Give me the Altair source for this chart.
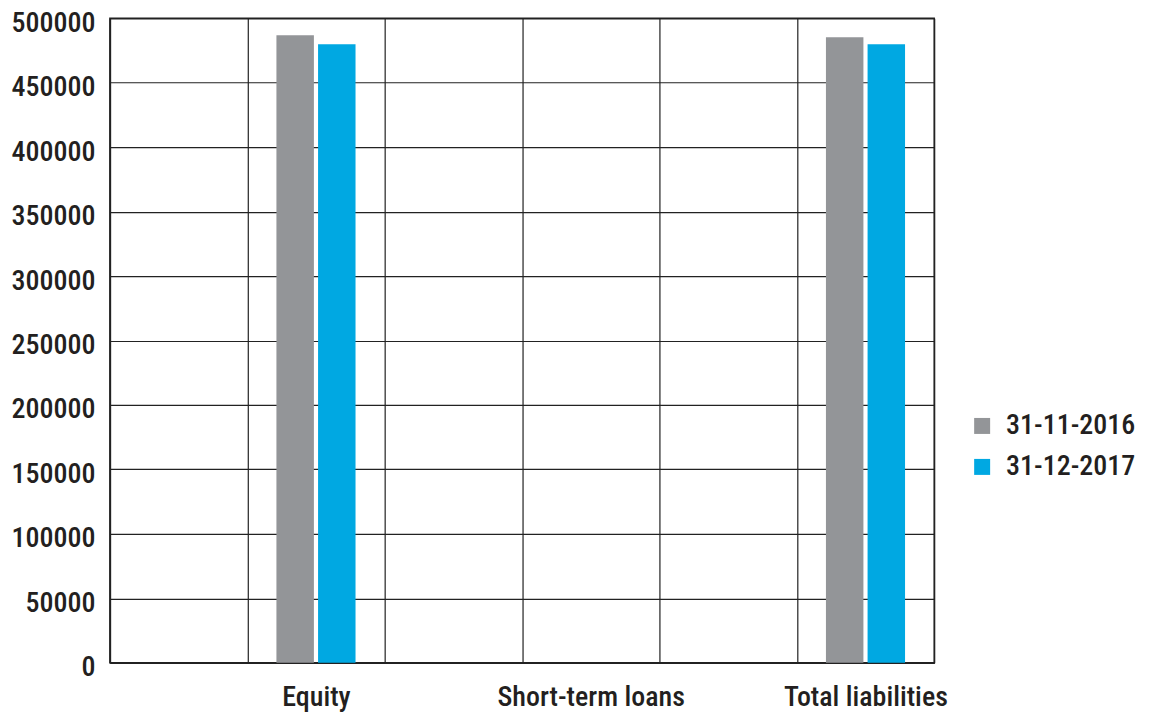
import altair as alt
import pandas as pd

categories = [" ", "Equity", "  ", "Short-term loans", "   ", "Total liabilities"]
series_names = ["31-11-2016", "31-12-2017"]
data_categories = ["Equity", "Short-term loans", "Total liabilities"]
values_2016 = [486800, 0, 485300]
values_2017 = [479800, 0, 479800]
y_ticks = [0, 50000, 100000, 150000, 200000, 250000, 300000, 350000, 400000, 450000, 500000]
colors = ["#939598", "#00A8E2"]

rows = []
for c, v1, v2 in zip(data_categories, values_2016, values_2017):
    rows.append({"category": c, "series": series_names[0], "amount": v1})
    rows.append({"category": c, "series": series_names[1], "amount": v2})
df = pd.DataFrame(rows)

FONT = "Roboto Condensed, Liberation Sans Narrow, DejaVu Sans Condensed, sans-serif"
TXT = "#231F20"
FW = 500

chart = alt.Chart(df).mark_bar().encode(
    x=alt.X("category:N", sort=categories,
            scale=alt.Scale(domain=categories, paddingInner=0, paddingOuter=0),
            axis=alt.Axis(title=None, labelAngle=0, tickBand="extent", ticks=False,
                          labelPadding=21, labelFontSize=28, labelFont=FONT, labelColor=TXT,
                          labelFontWeight=FW, labelLimit=0,
                          grid=True, gridColor="#222222", gridWidth=1.2,
                          domainColor="#222222", domainWidth=1.5)),
    xOffset=alt.XOffset("series:N", sort=series_names,
                        scale=alt.Scale(paddingInner=0.1, paddingOuter=0.7)),
    y=alt.Y("amount:Q", scale=alt.Scale(domain=[0, 500000], nice=False),
            axis=alt.Axis(title=None, values=y_ticks, format="d", ticks=False,
                          labelPadding=15, labelOffset=5, labelFontSize=28, labelFont=FONT,
                          labelFontWeight=FW,
                          labelColor=TXT, grid=True, gridColor="#222222", gridWidth=1.2,
                          domainColor="#222222", domainWidth=1.5)),
    color=alt.Color("series:N", sort=series_names,
                    scale=alt.Scale(domain=series_names, range=colors),
                    legend=alt.Legend(title=None, orient="none", legendX=859, legendY=394,
                                      symbolType="square", symbolSize=256,
                                      symbolStrokeWidth=0, symbolOpacity=1,
                                      labelFontSize=28, labelFont=FONT, labelColor=TXT,
                                      labelFontWeight=FW, labelLimit=0,
                                      labelOffset=10, rowPadding=13, padding=0)),
).properties(
    width=825, height=645,
    padding={"left": 102, "top": 10, "right": 210, "bottom": 50},
    autosize=alt.AutoSizeParams(type="none"),
).configure_view(stroke="#222222", strokeWidth=1.5)

chart.save("out.html", embed_options={"renderer": "svg", "actions": False})
